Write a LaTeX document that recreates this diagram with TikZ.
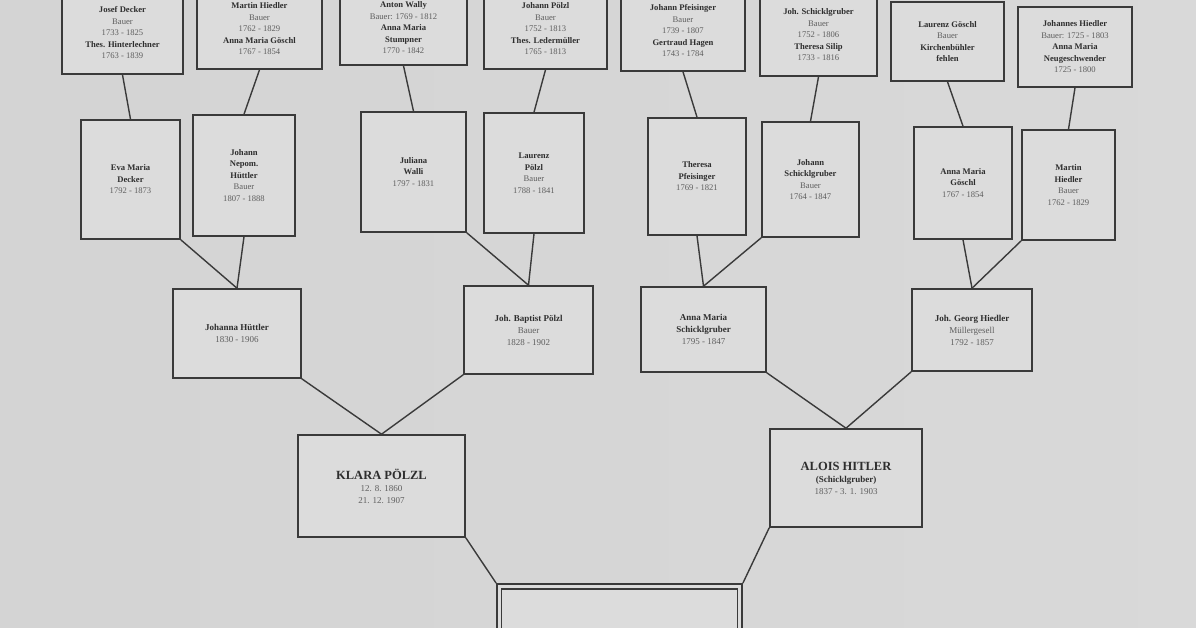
\documentclass[tikz,border=0pt]{standalone}
\usepackage{fontspec}
\setmainfont{Liberation Serif}
\definecolor{linec}{HTML}{3A3A3A}
\definecolor{boxc}{HTML}{DCDCDC}
\definecolor{namec}{HTML}{2E2E2E}
\definecolor{datec}{HTML}{5E5E5E}
\newcommand\pname[1]{{\bfseries\color{namec}#1}}
\tikzset{
  famb/.style={draw=linec, fill=boxc, line width=1.6pt, inner sep=0pt, align=center,
    text=datec, font=\fontsize{8.6}{11.5}\selectfont},
  bigb/.style={famb, font=\fontsize{9}{12}\selectfont},
  conn/.style={draw=linec, line width=1.4pt}
}
\begin{document}
\begin{tikzpicture}[x=1pt,y=-1pt]
\useasboundingbox (0,0) rectangle (1196,628);
\clip (0,0) rectangle (1196,628);
\shade[left color=black!17, middle color=black!11, right color=black!15] (0,0) rectangle (1196,628);

% top row
\node[famb, minimum width=121pt, minimum height=82pt] (t1) at (122.5,33)
  {\pname{Josef Decker}\\Bauer\\1733 - 1825\\\pname{Thes. Hinterlechner}\\1763 - 1839};
\node[famb, minimum width=125pt, minimum height=80pt] (t2) at (259.5,29)
  {\pname{Martin Hiedler}\\Bauer\\1762 - 1829\\\pname{Anna Maria Göschl}\\1767 - 1854};
\node[famb, minimum width=127pt, minimum height=74pt] (t3) at (403.5,28)
  {\pname{Anton Wally}\\Bauer: 1769 - 1812\\\pname{Anna Maria}\\\pname{Stumpner}\\1770 - 1842};
\node[famb, minimum width=123pt, minimum height=80pt] (t4) at (545.5,29)
  {\pname{Johann Pölzl}\\Bauer\\1752 - 1813\\\pname{Thes. Ledermüller}\\1765 - 1813};
\node[famb, minimum width=124pt, minimum height=80pt] (t5) at (683,31)
  {\pname{Johann Pfeisinger}\\Bauer\\1739 - 1807\\\pname{Gertraud Hagen}\\1743 - 1784};
\node[famb, minimum width=117pt, minimum height=82pt] (t6) at (818.5,35)
  {\pname{Joh. Schicklgruber}\\Bauer\\1752 - 1806\\\pname{Theresa Silip}\\1733 - 1816};
\node[famb, minimum width=113pt, minimum height=79pt] (t7) at (947.5,41.5)
  {\pname{Laurenz Göschl}\\Bauer\\\pname{Kirchenbühler}\\\pname{fehlen}};
\node[famb, minimum width=114pt, minimum height=80pt] (t8) at (1075,47)
  {\pname{Johannes Hiedler}\\Bauer: 1725 - 1803\\\pname{Anna Maria}\\\pname{Neugeschwender}\\1725 - 1800};

% second row
\node[famb, minimum width=99pt, minimum height=119pt] (s1) at (130.5,179.5)
  {\pname{Eva Maria}\\\pname{Decker}\\1792 - 1873};
\node[famb, minimum width=102pt, minimum height=121pt] (s2) at (244,175.5)
  {\pname{Johann}\\\pname{Nepom.}\\\pname{Hüttler}\\Bauer\\1807 - 1888};
\node[famb, minimum width=105pt, minimum height=120pt] (s3) at (413.5,172)
  {\pname{Juliana}\\\pname{Walli}\\1797 - 1831};
\node[famb, minimum width=100pt, minimum height=120pt] (s4) at (534,173)
  {\pname{Laurenz}\\\pname{Pölzl}\\Bauer\\1788 - 1841};
\node[famb, minimum width=98pt, minimum height=117pt] (s5) at (697,176.5)
  {\pname{Theresa}\\\pname{Pfeisinger}\\1769 - 1821};
\node[famb, minimum width=97pt, minimum height=115pt] (s6) at (810.5,179.5)
  {\pname{Johann}\\\pname{Schicklgruber}\\Bauer\\1764 - 1847};
\node[famb, minimum width=98pt, minimum height=112pt] (s7) at (963,183)
  {\pname{Anna Maria}\\\pname{Göschl}\\1767 - 1854};
\node[famb, minimum width=93pt, minimum height=110pt] (s8) at (1068.5,185)
  {\pname{Martin}\\\pname{Hiedler}\\Bauer\\1762 - 1829};

% third row
\node[bigb, minimum width=128pt, minimum height=89pt] (c1) at (237,333.5)
  {\pname{Johanna Hüttler}\\1830 - 1906};
\node[bigb, minimum width=129pt, minimum height=88pt] (c2) at (528.5,330)
  {\pname{Joh. Baptist Pölzl}\\Bauer\\1828 - 1902};
\node[bigb, minimum width=125pt, minimum height=85pt] (c3) at (703.5,329.5)
  {\pname{Anna Maria}\\\pname{Schicklgruber}\\1795 - 1847};
\node[bigb, minimum width=120pt, minimum height=82pt] (c4) at (972,330)
  {\pname{Joh. Georg Hiedler}\\Müllergesell\\1792 - 1857};

% fourth row
\node[famb, minimum width=167pt, minimum height=102pt, font=\fontsize{9}{12}\selectfont] (d1) at (381.5,486)
  {{\fontsize{12.5}{15}\selectfont\pname{KLARA PÖLZL}}\\12. 8. 1860\\21. 12. 1907};
\node[famb, minimum width=152pt, minimum height=98pt, font=\fontsize{9}{12}\selectfont] (d2) at (846,478)
  {{\fontsize{12.5}{15}\selectfont\pname{ALOIS HITLER}}\\\pname{(Schicklgruber)}\\1837 - 3. 1. 1903};

% bottom (double border)
\node[draw=linec, fill=boxc, line width=1.8pt, inner sep=0pt,
  minimum width=245pt, minimum height=100pt] (e) at (619.5,634) {};
\draw[linec, line width=1.6pt] ([shift={(5.5,6)}]e.north west) rectangle ([shift={(-5.5,0)}]e.south east);

% connectors
\foreach \i in {1,...,8} { \draw[conn] (t\i.south) -- (s\i.north); }
\draw[conn] (s1.south east) -- (c1.north);
\draw[conn] (s2.south) -- (c1.north);
\draw[conn] (s3.south east) -- (c2.north);
\draw[conn] (s4.south) -- (c2.north);
\draw[conn] (s5.south) -- (c3.north);
\draw[conn] (s6.south west) -- (c3.north);
\draw[conn] (s7.south) -- (c4.north);
\draw[conn] (s8.south west) -- (c4.north);
\draw[conn] (c1.south east) -- (d1.north);
\draw[conn] (c2.south west) -- (d1.north);
\draw[conn] (c3.south east) -- (d2.north);
\draw[conn] (c4.south west) -- (d2.north);
\draw[conn] (d1.south east) -- (e.north west);
\draw[conn] (d2.south west) -- (e.north east);
\end{tikzpicture}
\end{document}
